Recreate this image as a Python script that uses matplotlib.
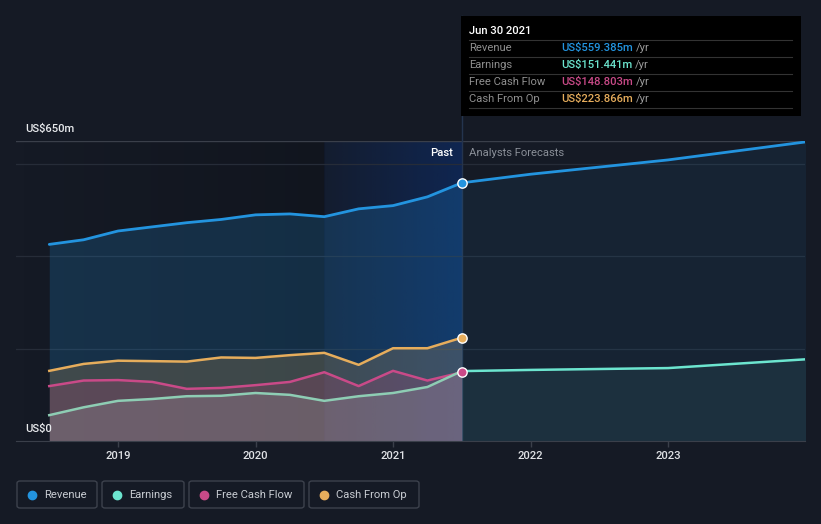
import numpy as np
import matplotlib.pyplot as plt
from matplotlib.patches import FancyBboxPatch, Rectangle

plt.rcParams['font.family'] = ['Roboto', 'DejaVu Sans']
fs = 8.1

# dados (US$ m), trimestrais
past_x = [2018.5, 2018.75, 2019.0, 2019.25, 2019.5, 2019.75, 2020.0,
          2020.25, 2020.5, 2020.75, 2021.0, 2021.25, 2021.5]
revenue = [426, 436, 455, 464, 473, 480, 490, 492, 486, 503, 510, 529, 559.385]
earnings = [56, 73, 87, 91, 97, 98, 104, 100, 87, 97, 104, 117, 151.441]
fcf = [119, 131, 132, 128, 113, 115, 121, 128, 149, 119, 152, 131, 148.803]
cfo = [152, 167, 174, 173, 172, 181, 180, 186, 191, 165, 201, 201, 223.866]

fc_x = [2021.5, 2022.0, 2023.0, 2024.0]
revenue_fc = [559.385, 578, 609, 648]
earnings_fc = [151.441, 154, 158, 177]

years = [2019, 2020, 2021, 2022, 2023]
legend_names = ['Revenue', 'Earnings', 'Free Cash Flow', 'Cash From Op']

# cores
bg = '#151a25'
c_rev = '#2394df'
c_earn = '#6ce5cf'
c_earn_past = '#8ecdb4'
c_fcf = '#c94a88'
c_cfo = '#e6ad5c'
grid_c = '#262c38'

x0, x1 = 2018.258, 2023.996
past_start = 2020.5
now = 2021.5

fig = plt.figure(figsize=(8.21, 5.24), dpi=100)
fig.patch.set_facecolor(bg)
ax = fig.add_axes([16/821, 83/524, 789/821, 300/524])
ax.set_facecolor(bg)
ax.set_xlim(x0, x1)
ax.set_ylim(0, 650)

# fundo escuro com gradiente ate o inicio do "past"
grad = np.linspace(0, 1, 200).reshape(1, -1)
dark = np.zeros((1, 200, 4))
dark[..., 3] = grad * 0.18
ax.imshow(dark, extent=[x0, past_start, 0, 650], aspect='auto', zorder=0)
# regiao "past" em azul
blue = np.zeros((1, 200, 4))
blue[..., 0] = 10/255
blue[..., 1] = 50/255
blue[..., 2] = 125/255
blue[..., 3] = 0.12 + grad * 0.38
ax.imshow(blue, extent=[past_start, now, 0, 650], aspect='auto', zorder=0.5)

# grade
for v in [200, 400, 600]:
    ax.axhline(v, color=grid_c, lw=0.9, zorder=1)
ax.axhline(650, color='#3a3f4a', lw=1, zorder=1)
ax.axvline(now, color='#24344e', lw=1, zorder=1)
ax.plot([now, now], [650, 650 + 125 * 650/300], color='#24344e', lw=1,
        clip_on=False, zorder=1)

# areas
ax.fill_between(past_x, revenue, 0, color=c_rev, alpha=0.2, lw=0, zorder=2)
ax.fill_between(past_x, cfo, 0, color=c_cfo, alpha=0.2, lw=0, zorder=2)
ax.fill_between(past_x, fcf, 0, color=c_fcf, alpha=0.2, lw=0, zorder=2)
ax.fill_between(past_x, earnings, 0, color='#c8d0d0', alpha=0.17, lw=0, zorder=2)
ax.fill_between(fc_x, revenue_fc, 0, color=c_rev, alpha=0.08, lw=0, zorder=2)
ax.fill_between(fc_x, earnings_fc, 0, color=c_earn, alpha=0.07, lw=0, zorder=2)

# linhas
ax.plot(past_x, revenue, color=c_rev, lw=2, zorder=4, solid_capstyle='round')
ax.plot(fc_x, revenue_fc, color=c_rev, lw=2, zorder=4, solid_capstyle='round')
ax.plot(past_x, cfo, color=c_cfo, lw=1.8, zorder=4)
ax.plot(past_x, fcf, color=c_fcf, lw=1.8, zorder=4)
ax.plot(past_x, earnings, color=c_earn_past, lw=1.8, zorder=4)
ax.plot(fc_x, earnings_fc, color=c_earn, lw=1.8, zorder=4)

# pontos em Jun 2021
ax.scatter([now], [revenue[-1]], s=45, color=c_rev, edgecolor='white', lw=1, zorder=6)
ax.scatter([now], [cfo[-1]], s=45, color=c_cfo, edgecolor='white', lw=1, zorder=6)
ax.scatter([now], [fcf[-1]], s=45, color=c_fcf, edgecolor='white', lw=1, zorder=6)

# eixos
for s in ['top', 'right', 'left']:
    ax.spines[s].set_visible(False)
ax.spines['bottom'].set_color('#3a3f4a')
ax.set_yticks([])
ax.set_xticks(years)
ax.set_xticklabels([str(y) for y in years], fontsize=fs, fontweight='medium')
ax.tick_params(axis='x', colors='#3a3f4a', length=4, width=1, pad=3,
               labelcolor='#e0e2e6')

fig.text(25/821, 1 - 129/524, 'US$650m', color='#e8eaed',
         fontsize=fs, va='center', ha='left', fontweight='medium')
fig.text(25/821, 1 - 429/524, 'US$0', color='#e8eaed',
         fontsize=fs, va='center', ha='left', fontweight='medium')
fig.text(453/821, 1 - 153/524, 'Past', color='#ffffff', fontsize=fs,
         ha='right', va='center', fontweight='medium')
fig.text(469/821, 1 - 153/524, 'Analysts Forecasts', color='#8a8f98',
         fontsize=fs, ha='left', va='center')

# tooltip
tip = Rectangle((461/821, 1 - 116/524), 340/821, 100/524, transform=fig.transFigure,
                facecolor='#000000', edgecolor='none', zorder=10)
fig.patches.append(tip)
fig.text(469/821, 1 - 31/524, 'Jun 30 2021', color='white', fontsize=fs,
         va='center', zorder=11, fontweight='medium')
rows = [('Revenue', 'US$559.385m', c_rev),
        ('Earnings', 'US$151.441m', c_earn),
        ('Free Cash Flow', 'US$148.803m', c_fcf),
        ('Cash From Op', 'US$223.866m', c_cfo)]
fig.canvas.draw()
renderer = fig.canvas.get_renderer()
for i, (lab, val, col) in enumerate(rows):
    yy = 1 - (48 + 17 * i) / 524
    line_y = 1 - (40 + 17 * i) / 524
    fig.add_artist(plt.Line2D([469/821, 792/821], [line_y, line_y],
                              transform=fig.transFigure, color='#333333', lw=0.8, zorder=11))
    fig.text(469/821, yy, lab, color='#8f8f8f', fontsize=fs, va='center', zorder=11)
    t = fig.text(561/821, yy, val, color=col, fontsize=fs, va='center', zorder=11,
                 fontweight='medium')
    bb = t.get_window_extent(renderer)
    fig.text((bb.x1 + 3)/821, yy, '/yr', color='#9a9a9a', fontsize=fs,
             va='center', zorder=11)
line_y = 1 - 108/524
fig.add_artist(plt.Line2D([469/821, 792/821], [line_y, line_y],
                          transform=fig.transFigure, color='#333333', lw=0.8, zorder=11))

# legenda
boxes = [(17, 97), (102, 184), (189, 304), (309, 419)]
colors = [c_rev, c_earn, c_fcf, c_cfo]
for (bx0, bx1), name, col in zip(boxes, legend_names, colors):
    box = FancyBboxPatch((bx0/821, 1 - 508/524), (bx1 - bx0)/821, 27/524,
                         boxstyle='round,pad=0,rounding_size=0.004',
                         transform=fig.transFigure, facecolor='none',
                         edgecolor='#3d424d', lw=1)
    fig.patches.append(box)
    fig.add_artist(plt.Line2D([(bx0 + 15)/821], [1 - 494.5/524], marker='o',
                              markersize=6, color=col, lw=0,
                              transform=fig.transFigure))
    fig.text((bx0 + 27)/821, 1 - 494.5/524, name, color='#c8ccd2', fontsize=fs,
             va='center', ha='left')

fig.savefig('out.png', dpi=100, facecolor=bg)
